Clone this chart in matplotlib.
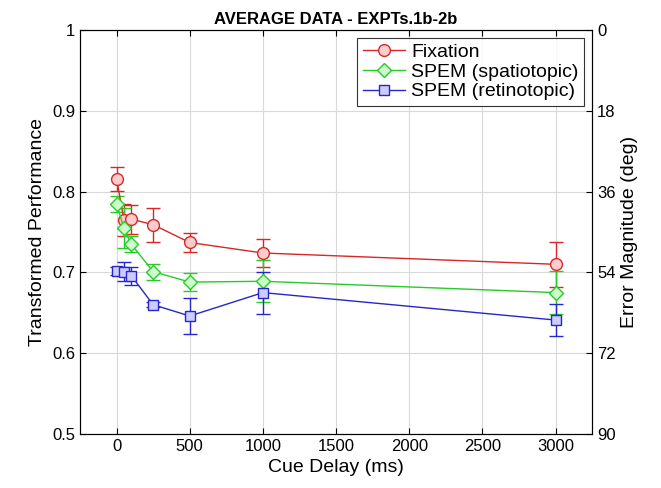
import matplotlib
matplotlib.use("Agg")
import matplotlib.pyplot as plt
from matplotlib.lines import Line2D

plt.rcParams['font.family'] = ['Liberation Sans', 'DejaVu Sans']

delays = [0, 50, 100, 250, 500, 1000, 3000]
fix_mean = [0.816, 0.765, 0.766, 0.759, 0.737, 0.724, 0.710]
fix_err = [0.015, 0.020, 0.018, 0.021, 0.012, 0.017, 0.028]
spa_mean = [0.785, 0.755, 0.735, 0.701, 0.688, 0.689, 0.675]
spa_err = [0.010, 0.025, 0.010, 0.010, 0.011, 0.026, 0.027]
ret_mean = [0.702, 0.701, 0.696, 0.660, 0.646, 0.675, 0.641]
ret_err = [0.005, 0.012, 0.011, 0.003, 0.022, 0.026, 0.020]

series = [
    ("Fixation", fix_mean, fix_err, 'o', (0.85, 0.15, 0.15), (1.0, 0.80, 0.80), 8.5),
    ("SPEM (spatiotopic)", spa_mean, spa_err, 'D', (0.15, 0.80, 0.15), (0.80, 1.0, 0.80), 7),
    ("SPEM (retinotopic)", ret_mean, ret_err, 's', (0.15, 0.15, 0.80), (0.80, 0.80, 1.0), 7),
]

fig = plt.figure(figsize=(6.61, 4.88), dpi=100)
ax = fig.add_axes([0.121, 0.1107, 0.775, 0.8278])

handles = []
for label, m, e, mk, c, fc, ms in series:
    ax.errorbar(delays, m, yerr=e, color=c, marker=mk, markerfacecolor=fc,
                markeredgecolor=c, markersize=ms, capsize=5, lw=1.0,
                elinewidth=1.0, capthick=1.0)
    handles.append(Line2D([], [], color=c, marker=mk, markerfacecolor=fc,
                          markeredgecolor=c, markersize=ms, lw=1.0, label=label))

ax.set_xlim(-250, 3250)
ax.set_ylim(0.5, 1.0)
ax.set_xticks([0, 500, 1000, 1500, 2000, 2500, 3000])
ax.set_yticks([0.5, 0.6, 0.7, 0.8, 0.9, 1.0])
ax.set_yticklabels(['0.5', '0.6', '0.7', '0.8', '0.9', '1'])
ax.grid(True, color=(0.85, 0.85, 0.85), lw=0.8)
ax.set_axisbelow(True)
ax.tick_params(direction='in', labelsize=12, length=4, top=True)
for s in ax.spines.values():
    s.set_color((0.15, 0.15, 0.15))
ax.set_xlabel('Cue Delay (ms)', fontsize=14)
ax.set_ylabel('Transformed Performance', fontsize=14)
ax.set_title('AVERAGE DATA - EXPTs.1b-2b', fontsize=12, fontweight='bold', pad=4)

ax2 = ax.twinx()
ax2.set_ylim(90, 0)
ax2.set_yticks([0, 18, 36, 54, 72, 90])
ax2.tick_params(direction='in', labelsize=12, length=4)
ax2.set_ylabel('Error Magnitude (deg)', fontsize=14)

leg = ax.legend(handles=handles, loc='upper right', fontsize=14, frameon=True,
                fancybox=False, edgecolor='black', handlelength=2.2, borderpad=0.3,
                labelspacing=0.1, handletextpad=0.3, borderaxespad=0.4)
leg.get_frame().set_linewidth(0.8)

fig.savefig('out.png', dpi=100)
